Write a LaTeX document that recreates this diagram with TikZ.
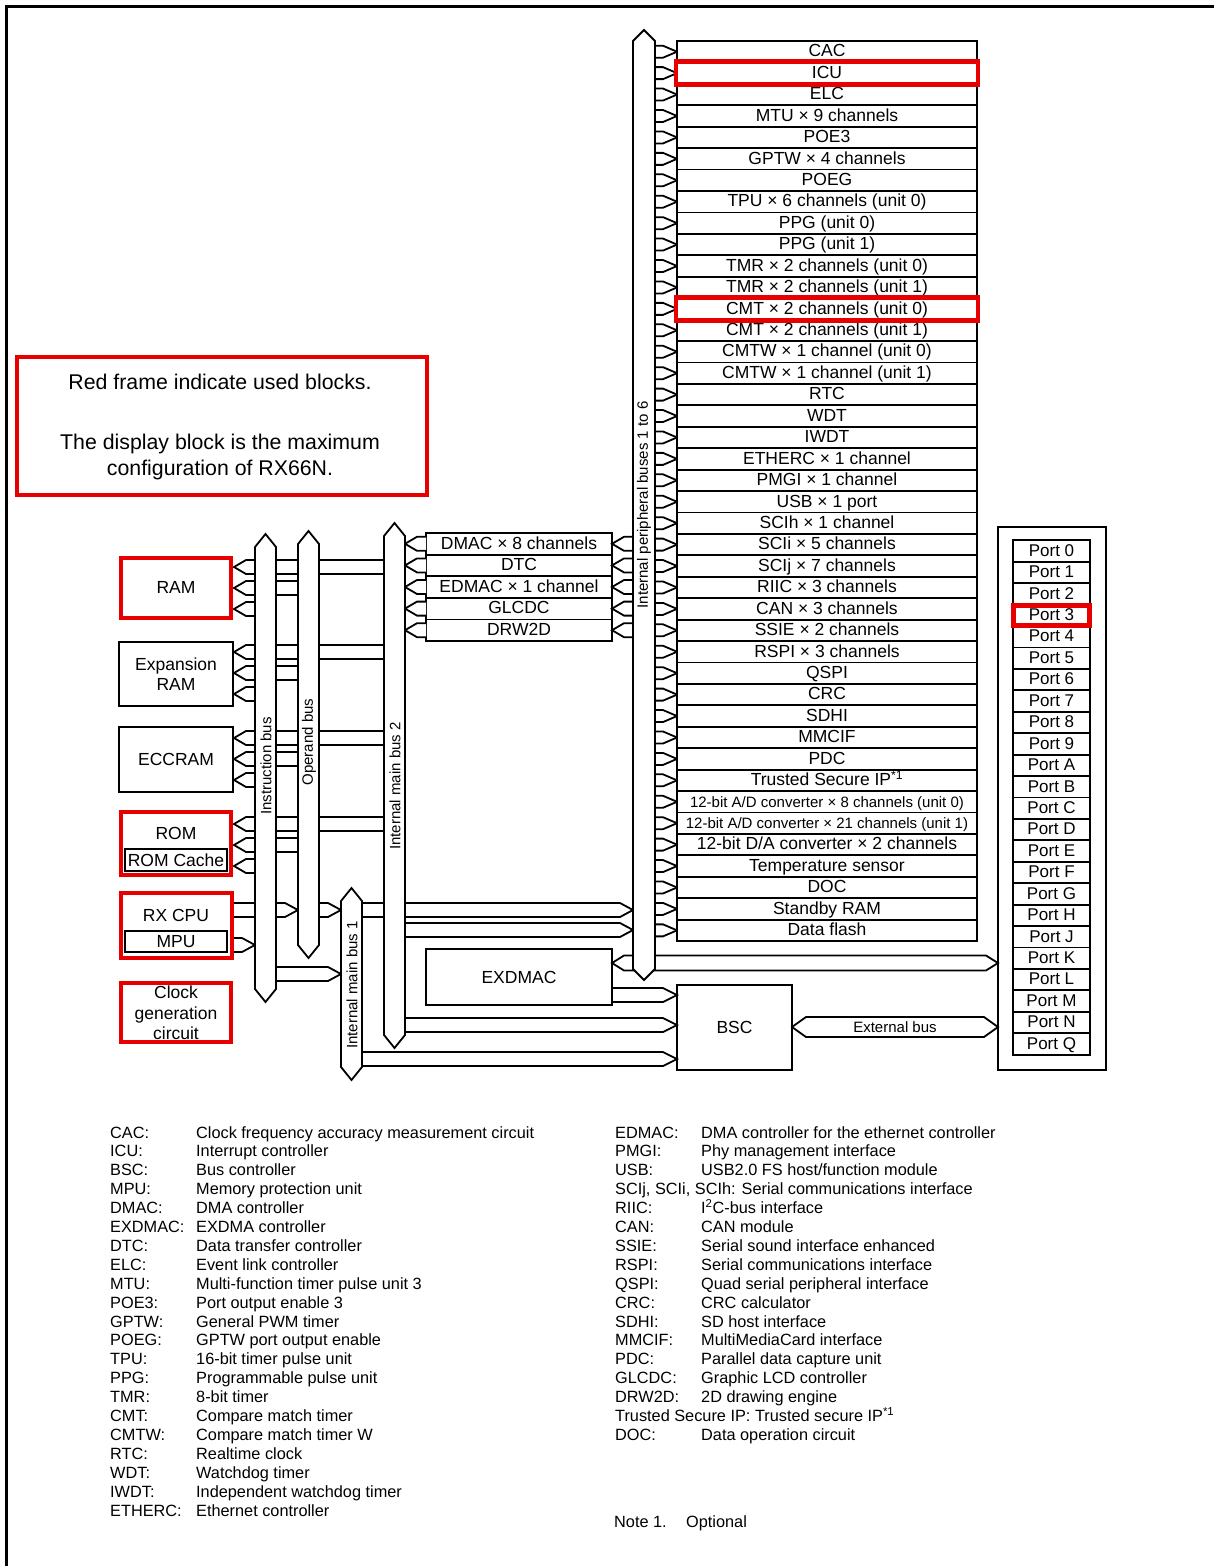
\documentclass[tikz,border=0pt]{standalone}
\usepackage{fontspec}
\setmainfont{Liberation Sans}
\newcommand{\fs}[1]{\fontsize{#1}{#1}\selectfont}
\definecolor{fr}{RGB}{232,0,0}
% band from x1 to a tip at x2 (pointing right)
\newcommand{\myarrR}[5]{%
  \fill[white] ({#1},{#3-#4}) -- ({#2-#5},{#3-#4}) -- ({#2},{#3}) -- ({#2-#5},{#3+#4}) -- ({#1},{#3+#4}) -- cycle;
  \draw[ln] ({#1},{#3-#4}) -- ({#2-#5},{#3-#4}) -- ({#2},{#3}) -- ({#2-#5},{#3+#4}) -- ({#1},{#3+#4});}
% tip at x1 (pointing left), band to x2
\newcommand{\myarrL}[5]{%
  \fill[white] ({#2},{#3-#4}) -- ({#1+#5},{#3-#4}) -- ({#1},{#3}) -- ({#1+#5},{#3+#4}) -- ({#2},{#3+#4}) -- cycle;
  \draw[ln] ({#2},{#3-#4}) -- ({#1+#5},{#3-#4}) -- ({#1},{#3}) -- ({#1+#5},{#3+#4}) -- ({#2},{#3+#4});}
% double headed band
\newcommand{\myarrLR}[5]{%
  \filldraw[ln,fill=white] ({#1},{#3}) -- ({#1+#5},{#3-#4}) -- ({#2-#5},{#3-#4}) -- ({#2},{#3}) -- ({#2-#5},{#3+#4}) -- ({#1+#5},{#3+#4}) -- cycle;}
% vertical bus: xl xr ytop ybot shoulder
\newcommand{\vbus}[5]{%
  \filldraw[ln,fill=white] ({(#1+#2)/2},{#3}) -- ({#2},{#3+#5}) -- ({#2},{#4-#5}) -- ({(#1+#2)/2},{#4}) -- ({#1},{#4-#5}) -- ({#1},{#3+#5}) -- cycle;}
\begin{document}
\begin{tikzpicture}[x=1pt,y=-1pt,
  ln/.style={line width=1.8pt, line join=miter},
  frm/.style={draw=fr, line width=4.5pt, inner sep=0pt, outer sep=0pt},
  box/.style={draw, line width=1.8pt, inner sep=0pt, outer sep=0pt, align=center},
  prow/.style={box, minimum width=300pt, minimum height=21.43pt, font=\fs{17.5}, text height=12.5pt, text depth=2pt},
  drow/.style={box, minimum width=186pt, minimum height=21.6pt, font=\fs{17.5}, text height=12.5pt, text depth=2pt},
  portrow/.style={box, minimum width=77pt, minimum height=21.43pt, font=\fs{17}, text height=12.5pt, text depth=2pt},
  lbl/.style={font=\fs{17.5}, inner sep=0pt, align=center},
  buslbl/.style={font=\fs{15}, inner sep=0pt, rotate=90},
  leg/.style={font=\fs{16.3}, inner sep=0pt, anchor=base west}]
\useasboundingbox (0,0) rectangle (1214,1566);
% outer frame (only top and left visible)
\draw[line width=3pt] (6.5,1570) -- (6.5,6) -- (1220,6);

% note box
\node[frm, minimum width=410pt, minimum height=138pt] (notebox) at (222,426) {};
\node[font=\fs{21.3}, inner sep=0pt] (note1) at (220,382) {Red frame indicate used blocks.};
\node[font=\fs{21.3}, inner sep=0pt] (note2) at (220,444) {The display block is the maximum};
\node[font=\fs{21.3}, inner sep=0pt] (note3) at (220,470) {configuration of RX66N.};

% peripheral column
\foreach \t [count=\i] in {CAC, ICU, ELC, MTU × 9 channels, POE3, GPTW × 4 channels, POEG,
  TPU × 6 channels (unit 0), PPG (unit 0), PPG (unit 1), TMR × 2 channels (unit 0),
  TMR × 2 channels (unit 1), CMT × 2 channels (unit 0), CMT × 2 channels (unit 1),
  CMTW × 1 channel (unit 0), CMTW × 1 channel (unit 1), RTC, WDT, IWDT,
  ETHERC × 1 channel, PMGI × 1 channel, USB × 1 port, SCIh × 1 channel,
  SCIi × 5 channels, SCIj × 7 channels, RIIC × 3 channels, CAN × 3 channels,
  SSIE × 2 channels, RSPI × 3 channels, QSPI, CRC, SDHI, MMCIF, PDC,
  {Trusted Secure IP\textsuperscript{*1}},
  {{\fs{15}12-bit A/D converter × 8 channels (unit 0)}},
  {{\fs{15}12-bit A/D converter × 21 channels (unit 1)}},
  {12-bit D/A converter × 2 channels}, Temperature sensor, DOC, Standby RAM, Data flash}
{
  \node[prow] (p\i) at (827,{41+21.43*(\i-0.5)}) {\t};
  \draw[ln] (p\i.west) -- ++(-14,-6) -- ++(-8,0);
  \draw[ln] (p\i.west) -- ++(-14,6) -- ++(-8,0);
}
\node[frm, minimum width=302pt, minimum height=23pt] (ficu) at (p2.center) {};
\node[frm, minimum width=302pt, minimum height=23pt] (fcmt) at (p13.center) {};

% DMAC column
\foreach \t [count=\i] in {DMAC × 8 channels, DTC, EDMAC × 1 channel, GLCDC, DRW2D}
{
  \node[drow] (d\i) at (519,{533+21.6*(\i-0.5)}) {\t};
  \myarrL{405}{426}{533+21.6*(\i-0.5)}{7}{12}
  \myarrL{612}{633}{533+21.6*(\i-0.5)}{7}{12}
}

% memory block bands
\foreach \c in {567,652,738,824}
{
  \myarrL{234}{384}{\c}{7}{12}
  \myarrL{234}{298}{\c+21}{7}{12}
  \myarrL{234}{255}{\c+42}{7}{12}
}
% RX CPU bands
\myarrR{234}{298}{910}{7}{13}
\myarrR{319}{341}{910}{7}{13}
\myarrR{234}{255}{945}{7}{13}
\myarrR{276}{341}{974}{7}{13}
% main buses to peripheral bus
\myarrR{362}{633}{910}{7}{13}
\myarrR{405}{633}{930}{7}{13}
% EXDMAC / ports band
\myarrLR{612}{998}{963}{7.5}{12}
% to BSC
\myarrR{612}{677}{995}{7}{14}
\myarrR{405}{677}{1025}{7}{14}
\myarrR{362}{677}{1059}{7}{14}
% external bus
\myarrLR{792}{998}{1027}{10}{14}
\node[font=\fs{15}, inner sep=0pt] (extbus) at (895,1027) {External bus};

% buses
\vbus{633}{655}{30}{980}{11}
\node[buslbl] (pbusl) at (644,505) {Internal peripheral buses 1 to 6};
\vbus{255}{276}{534}{1002}{13}
\node[buslbl] (ibusl) at (266,766) {Instruction bus};
\vbus{298}{319}{531}{958}{13}
\node[buslbl] (obusl) at (309,742) {Operand bus};
\vbus{384}{405}{523}{1048}{13}
\node[buslbl] (m2busl) at (395,786) {Internal main bus 2};
\vbus{341}{362}{888}{1080}{13}
\node[buslbl] (m1busl) at (352,985) {Internal main bus 1};

% memory and CPU blocks
\node[frm, minimum width=110pt, minimum height=60pt] (ram) at (176,588) {};
\node[lbl] (ramt) at (176,587) {RAM};
\node[box, minimum width=114pt, minimum height=64pt, font=\fs{17.5}] (xram) at (176,674) {Expansion\\[2pt]RAM};
\node[box, minimum width=114pt, minimum height=65pt, font=\fs{17.5}] (eccram) at (176,759.5) {ECCRAM};
\node[frm, minimum width=110pt, minimum height=63pt] (rom) at (176,843.5) {};
\node[lbl] (romt) at (176,833) {ROM};
\node[box, minimum width=102pt, minimum height=22pt, font=\fs{17.5}] (romc) at (176,860) {ROM Cache};
\node[frm, minimum width=111pt, minimum height=65pt] (cpu) at (176.5,925.5) {};
\node[lbl] (cput) at (176,915) {RX CPU};
\node[box, minimum width=102pt, minimum height=21pt, font=\fs{17.5}] (mpu) at (176,941.5) {MPU};
\node[frm, minimum width=110pt, minimum height=59pt] (clk) at (176,1012.5) {};
\node[lbl] (clkt) at (176,1013) {Clock\\[3pt]generation\\[3pt]circuit};

% EXDMAC and BSC
\node[box, minimum width=186pt, minimum height=56pt, font=\fs{17.5}] (exdmac) at (519,977) {EXDMAC};
\node[box, minimum width=115pt, minimum height=85pt, font=\fs{17.5}] (bsc) at (734.5,1027.5) {BSC};

% ports
\node[box, minimum width=108pt, minimum height=543pt] (pbox) at (1052,798.5) {};
\foreach \t [count=\i] in {0,1,2,3,4,5,6,7,8,9,A,B,C,D,E,F,G,H,J,K,L,M,N,Q}
{
  \node[portrow] (port\i) at (1051.5,{540.3+21.43*(\i-0.5)}) {Port \t};
}
\node[frm, minimum width=76pt, minimum height=20pt] (fport) at (port4.center) {};

% legend
\foreach \k/\d [count=\i] in {CAC:/Clock frequency accuracy measurement circuit,
  ICU:/Interrupt controller, BSC:/Bus controller, MPU:/Memory protection unit,
  DMAC:/DMA controller, EXDMAC:/EXDMA controller, DTC:/Data transfer controller,
  ELC:/Event link controller, MTU:/Multi-function timer pulse unit 3,
  POE3:/Port output enable 3, GPTW:/General PWM timer, POEG:/GPTW port output enable,
  TPU:/16-bit timer pulse unit, PPG:/Programmable pulse unit, TMR:/8-bit timer,
  CMT:/Compare match timer, CMTW:/Compare match timer W, RTC:/Realtime clock,
  WDT:/Watchdog timer, IWDT:/Independent watchdog timer, ETHERC:/Ethernet controller}
{
  \node[leg] (lk\i) at (110,{1138+18.9*(\i-1)}) {\k};
  \node[leg] (ld\i) at (196,{1138+18.9*(\i-1)}) {\d};
}
\foreach \k/\d [count=\i] in {EDMAC:/DMA controller for the ethernet controller,
  PMGI:/Phy management interface, USB:/{USB2.0 FS host/function module},
  {SCIj, SCIi, SCIh: Serial communications interface}/{},
  RIIC:/{I\textsuperscript{2}C-bus interface}, CAN:/CAN module,
  SSIE:/Serial sound interface enhanced, RSPI:/Serial communications interface,
  QSPI:/Quad serial peripheral interface, CRC:/CRC calculator, SDHI:/SD host interface,
  MMCIF:/MultiMediaCard interface, PDC:/Parallel data capture unit,
  GLCDC:/Graphic LCD controller, DRW2D:/2D drawing engine,
  {Trusted Secure IP: Trusted secure IP\textsuperscript{*1}}/{},
  DOC:/Data operation circuit}
{
  \node[leg] (rk\i) at (615,{1138+18.9*(\i-1)}) {\k};
  \node[leg] (rd\i) at (701,{1138+18.9*(\i-1)}) {\d};
}
\node[leg] (note1a) at (614,1527) {Note 1.};
\node[leg] (note1b) at (686,1527) {Optional};
\end{tikzpicture}
\end{document}
